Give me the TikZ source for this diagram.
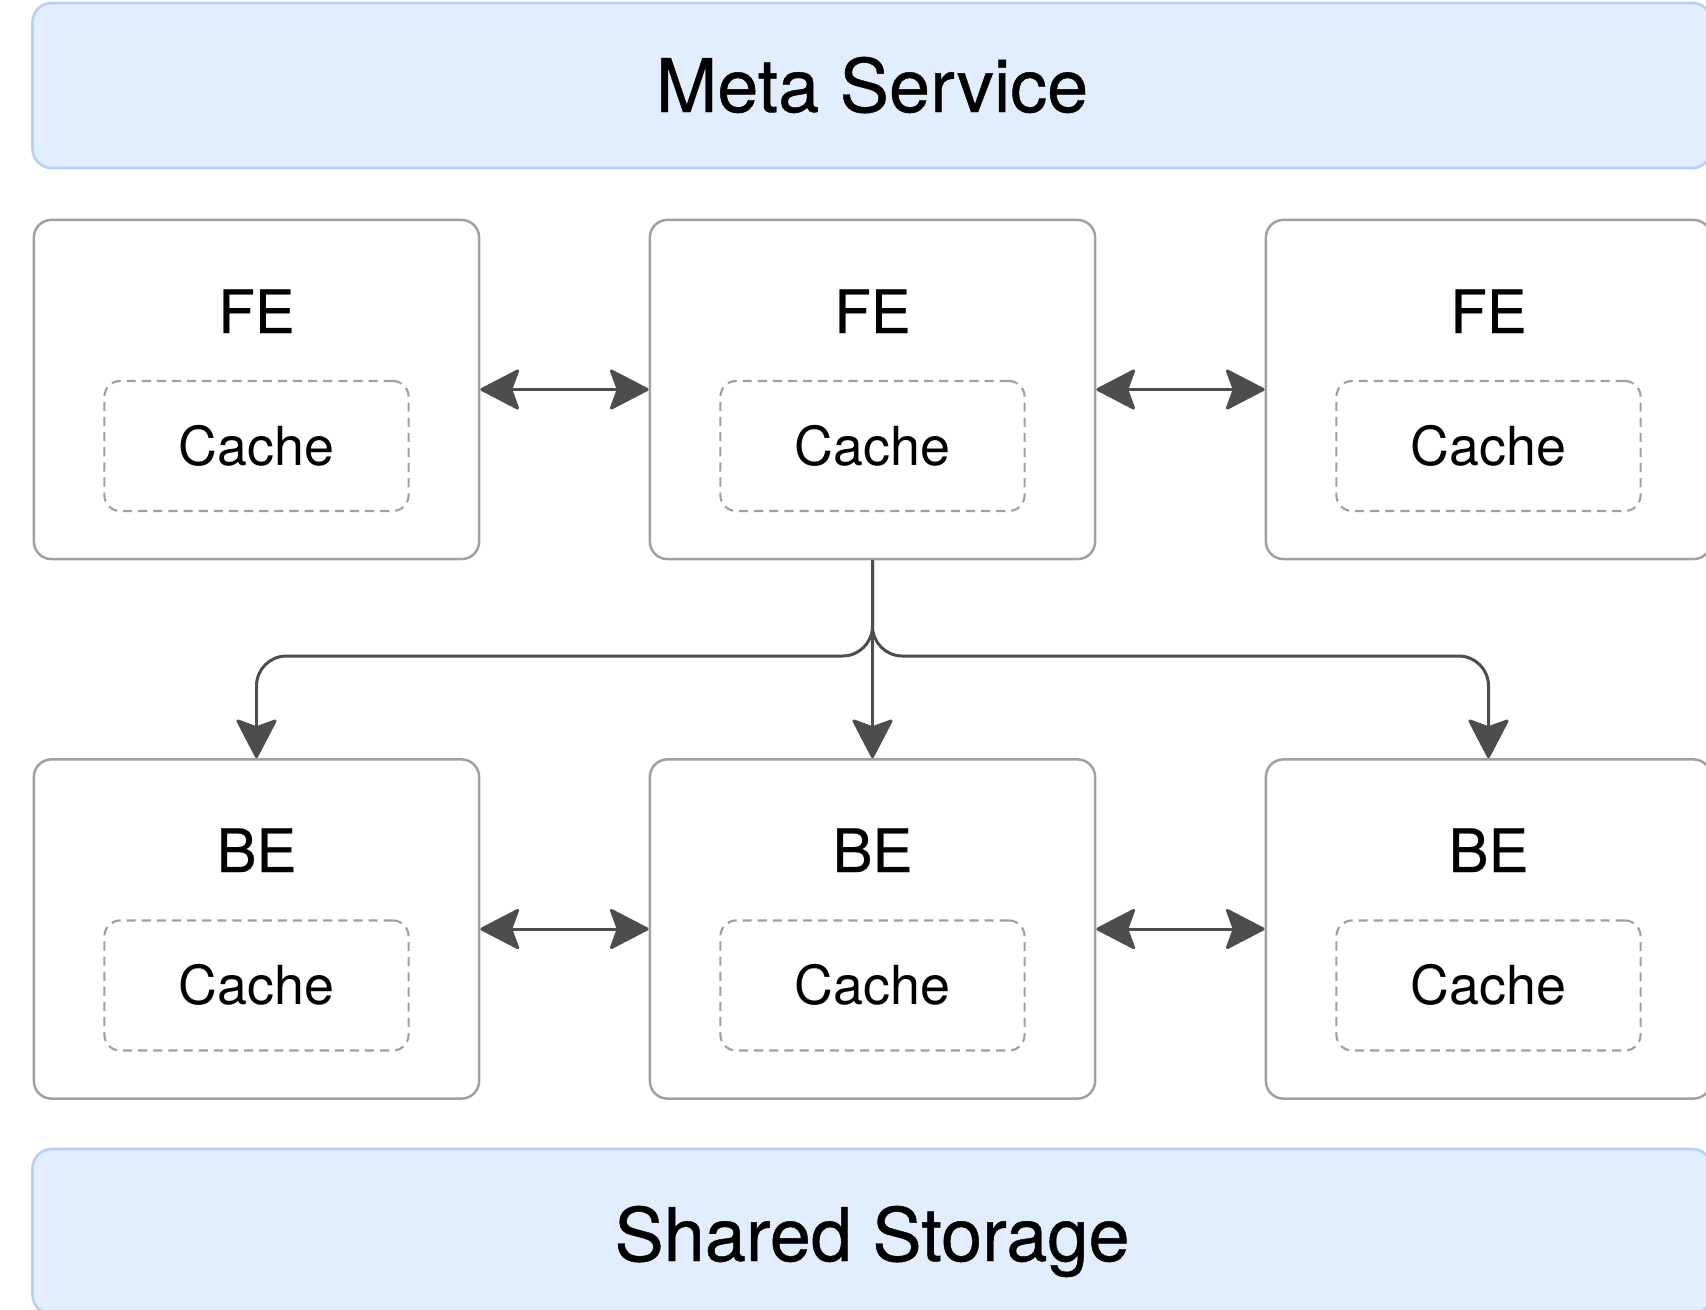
\documentclass[tikz,border=0pt]{standalone}
\usepackage{fontspec}
\setmainfont{TeX Gyre Heros}
\usetikzlibrary{arrows.meta}
\definecolor{metafill}{HTML}{E2EDFD}
\definecolor{metaline}{HTML}{B4D0FA}
\definecolor{boxline}{HTML}{A0A0A0}
\definecolor{arrowgray}{HTML}{4D4D4D}
\begin{document}
\begin{tikzpicture}[x=0.01cm,y=-0.01cm,
  band/.style={draw=metaline, fill=metafill, line width=0.75pt, rounded corners=5.5pt, minimum width=16.78cm, minimum height=1.65cm, inner sep=0pt},
  unit/.style={draw=boxline, line width=0.7pt, rounded corners=5pt, minimum width=4.45cm, minimum height=3.39cm, inner sep=0pt},
  cachebox/.style={draw=boxline, line width=0.6pt, dash pattern=on 2.6pt off 1.7pt, rounded corners=4.5pt, minimum width=3.04cm, minimum height=1.3cm, inner sep=0pt},
  bigtext/.style={anchor=base, inner sep=0pt, font=\fontsize{21pt}{25pt}\selectfont\addfontfeature{FakeBold=0.6}},
  unittext/.style={anchor=base, inner sep=0pt, font=\fontsize{17pt}{20pt}\selectfont\addfontfeature{FakeBold=0.5}},
  cachetext/.style={anchor=base, inner sep=0pt, font=\fontsize{15.3pt}{18pt}\selectfont},
  tip/.tip={Stealth[length=11.8pt, width=12.2pt, inset=2.2pt, round]},
  link/.style={draw=arrowgray, line width=0.85pt, tip-tip},
  flow/.style={draw=arrowgray, line width=0.85pt, -tip, rounded corners=8.5pt}]
\useasboundingbox (0,0) rectangle (1706,1309);
\clip (0,0) rectangle (1706,1309);
\node[band] (meta) at (872,85.5) {};
\node[bigtext] (metal) at (872,112) {Meta Service};
\node[band] (storage) at (872,1231.5) {};
\node[bigtext] (storagel) at (872,1261) {Shared Storage};
\foreach \i/\x in {0/256.5,1/872.5,2/1488.5}{
  \node[unit] (fe\i) at (\x,389.5) {};
  \node[unittext] (fe\i l) at (\x,333) {FE};
  \node[cachebox] (fec\i) at (\x,446) {};
  \node[cachetext] (fec\i l) at (\x,465) {Cache};
  \node[unit] (be\i) at (\x,929) {};
  \node[unittext] (be\i l) at (\x,872) {BE};
  \node[cachebox] (bec\i) at (\x,985.5) {};
  \node[cachetext] (bec\i l) at (\x,1004) {Cache};
}
\coordinate (split) at (872.5,656);
\draw[link](fe0.east) -- (fe1.west);
\draw[link](fe1.east) -- (fe2.west);
\draw[link](be0.east) -- (be1.west);
\draw[link](be1.east) -- (be2.west);
\draw[flow](fe1.south) -- (be1.north);
\draw[flow](fe1.south) -- (split) -| (be0.north);
\draw[flow](fe1.south) -- (split) -| (be2.north);
\end{tikzpicture}
\end{document}
